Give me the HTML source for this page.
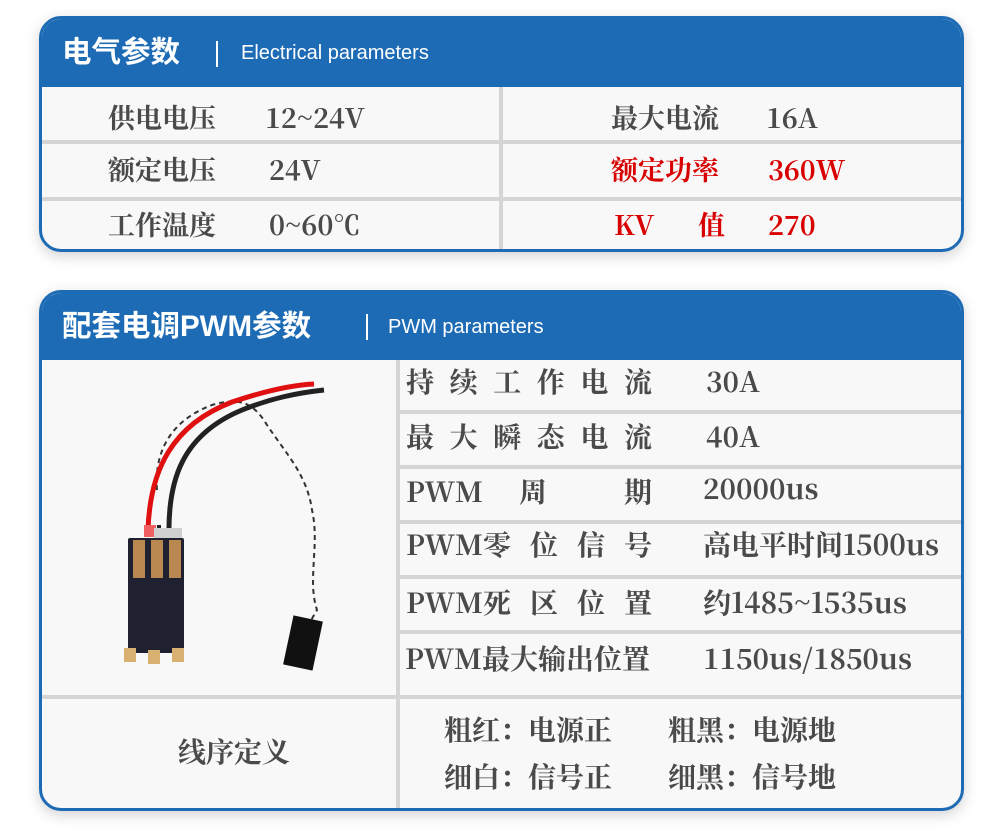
<!DOCTYPE html>
<html><head><meta charset="utf-8"><style>
*{margin:0;padding:0;box-sizing:border-box}
body{width:1008px;height:833px;background:#fff;position:relative;overflow:hidden;font-family:"Noto Serif CJK SC","Liberation Serif",serif}
.card{position:absolute;left:39px;width:925px;border:3px solid #1e6bb5;border-radius:22px;background:#f8f8f8;overflow:hidden;box-shadow:0 4px 14px rgba(0,0,0,.18)}
.hd{position:absolute;left:0;top:0;right:0;background:#1e6bb5;color:#fff}
.ht{position:absolute;font-family:"Liberation Sans","Noto Sans CJK SC",sans-serif;font-weight:bold;font-size:29.5px;white-space:nowrap;line-height:34px}
.hs{position:absolute;font-family:"Liberation Sans","Noto Sans CJK SC",sans-serif;font-size:20px;white-space:nowrap}
.vl{position:absolute;width:1.5px;background:#fff}
.t{position:absolute;font-weight:bold;font-size:27px;color:#4a4a4a;white-space:nowrap;line-height:34px}
.c2 .t{font-size:28px}
.r{color:#d80000}
.hl{position:absolute;height:4px;background:#d5d5d5}
.vd{position:absolute;width:4px;background:#d5d5d5}
.sp{display:flex;justify-content:space-between;width:246px}
</style></head><body>

<div class="card" style="top:16px;height:236px">
 <div class="hd" style="height:68px">
  <div class="ht" style="left:20px;top:17px">电气参数</div>
  <div class="vl" style="left:174px;top:22px;height:26px"></div>
  <div class="hs" style="left:199px;top:23px">Electrical parameters</div>
 </div>
 <div class="hl" style="left:0;right:0;top:121px"></div>
 <div class="hl" style="left:0;right:0;top:178px"></div>
 <div class="vd" style="left:457px;top:68px;bottom:0"></div>
 <div class="t" style="left:66px;top:81px">供电电压</div>
 <div class="t" style="left:223px;top:81px">12~24V</div>
 <div class="t" style="left:66px;top:133px">额定电压</div>
 <div class="t" style="left:227px;top:133px">24V</div>
 <div class="t" style="left:66px;top:188px">工作温度</div>
 <div class="t" style="left:227px;top:188px">0~60℃</div>
 <div class="t" style="left:569px;top:81px">最大电流</div>
 <div class="t" style="left:724px;top:81px">16A</div>
 <div class="t r" style="left:569px;top:133px">额定功率</div>
 <div class="t r" style="left:726px;top:133px">360W</div>
 <div class="t r" style="left:572px;top:188px">KV</div>
 <div class="t r" style="left:656px;top:188px">值</div>
 <div class="t r" style="left:726px;top:188px">270</div>
</div>

<div class="card c2" style="top:290px;height:521px">
 <div class="hd" style="height:67px">
  <div class="ht" style="left:20px;top:17px">配套电调PWM参数</div>
  <div class="vl" style="left:324px;top:21px;height:26px"></div>
  <div class="hs" style="left:346px;top:23px">PWM parameters</div>
 </div>
 <div class="vd" style="left:354px;top:67px;bottom:0"></div>
 <div class="hl" style="left:358px;right:0;top:117px"></div>
 <div class="hl" style="left:358px;right:0;top:172px"></div>
 <div class="hl" style="left:358px;right:0;top:227px"></div>
 <div class="hl" style="left:358px;right:0;top:282px"></div>
 <div class="hl" style="left:358px;right:0;top:337px"></div>
 <div class="hl" style="left:0;right:0;top:402px"></div>

 <div class="t sp" style="left:364px;top:71px"><span>持</span><span>续</span><span>工</span><span>作</span><span>电</span><span>流</span></div>
 <div class="t" style="left:664px;top:71px">30A</div>
 <div class="t sp" style="left:364px;top:126px"><span>最</span><span>大</span><span>瞬</span><span>态</span><span>电</span><span>流</span></div>
 <div class="t" style="left:664px;top:126px">40A</div>
 <div class="t" style="left:364px;top:181px">PWM</div>
 <div class="t" style="left:477px;top:181px">周</div>
 <div class="t" style="left:582px;top:181px">期</div>
 <div class="t" style="left:661px;top:178px">20000us</div>
 <div class="t sp" style="left:364px;top:234px"><span>PWM零</span><span>位</span><span>信</span><span>号</span></div>
 <div class="t" style="left:661px;top:234px">高电平时间1500us</div>
 <div class="t sp" style="left:364px;top:292px"><span>PWM死</span><span>区</span><span>位</span><span>置</span></div>
 <div class="t" style="left:661px;top:292px">约1485~1535us</div>
 <div class="t" style="left:363px;top:348px">PWM最大输出位置</div>
 <div class="t" style="left:661px;top:348px">1150us/1850us</div>

 <div class="t" style="left:136px;top:441px">线序定义</div>
 <div class="t" style="left:402px;top:419px">粗红：电源正</div>
 <div class="t" style="left:626px;top:419px">粗黑：电源地</div>
 <div class="t" style="left:402px;top:466px">细白：信号正</div>
 <div class="t" style="left:626px;top:466px">细黑：信号地</div>

 <svg style="position:absolute;left:0;top:67px" width="354" height="335">
  <path d="M115 130 C112 90 130 60 170 45 C195 38 210 40 225 65 C245 95 265 115 270 150 C278 185 265 220 275 250 L268 262" fill="none" stroke="#333" stroke-width="2" stroke-dasharray="5 4"/>
  <path d="M106 170 C108 110 130 65 190 42 C220 32 250 25 272 24" fill="none" stroke="#e01010" stroke-width="5"/>
  <path d="M127 175 C126 120 140 75 200 50 C230 38 255 33 282 30" fill="none" stroke="#222" stroke-width="5"/>
  <path d="M117 165 L117 180" stroke="#222" stroke-width="4"/>
  <rect x="102" y="165" width="12" height="12" fill="#f06060"/>
  <rect x="112" y="168" width="28" height="12" fill="#d0d0d0"/>
  <rect x="86" y="178" width="56" height="115" fill="#1f2030" rx="2"/>
  <rect x="91" y="180" width="12" height="38" fill="#b88850"/>
  <rect x="109" y="180" width="12" height="38" fill="#b88850"/>
  <rect x="127" y="180" width="12" height="38" fill="#b88850"/>
  <rect x="82" y="288" width="12" height="14" fill="#d8b070"/>
  <rect x="106" y="290" width="12" height="14" fill="#d8b070"/>
  <rect x="130" y="288" width="12" height="14" fill="#d8b070"/>
  <rect x="246" y="258" width="30" height="50" fill="#111" transform="rotate(12 261 283)"/>
 </svg>
</div>
</body></html>
